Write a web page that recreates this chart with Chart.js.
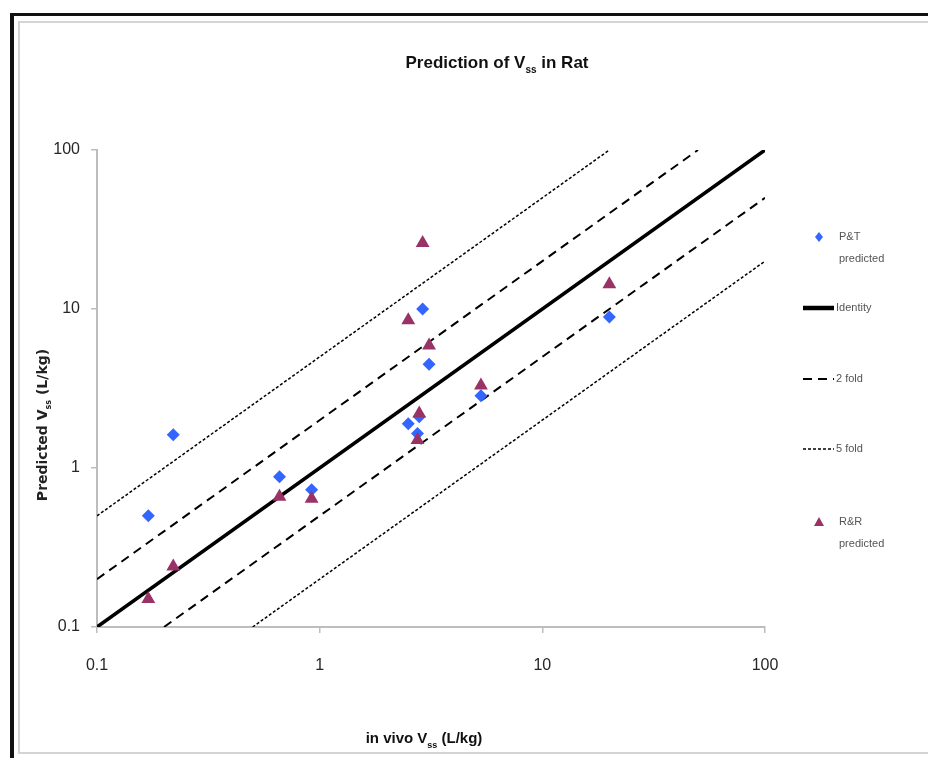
<!doctype html>
<html lang="en">
<head>
<meta charset="utf-8">
<title>Prediction of Vss in Rat</title>
<script src="https://cdn.jsdelivr.net/npm/chart.js@4.4.1/dist/chart.umd.min.js"></script>
<style>
 html,body{margin:0;padding:0;background:#fff}
 body{width:928px;height:758px;position:relative;overflow:hidden}
 #outer{position:absolute;left:10px;top:13px;width:960px;height:800px;border-left:4px solid #111;border-top:3px solid #111}
 #inner{position:absolute;left:18px;top:21px;width:960px;height:729px;border:2px solid #d4d4d4;border-right:none}
 canvas{position:absolute;left:0;top:0}
</style>
</head>
<body>
<div id="outer"></div>
<div id="inner"></div>
<canvas id="c" width="928" height="758"></canvas>

<script>
/* ===== data ========================================================= */
const X_TICKS = [0.1, 1, 10, 100];
const Y_TICKS = [0.1, 1, 10, 100];

// in vivo Vss per compound, same order for both methods
const invivo   = [0.17, 0.22, 0.66, 0.92, 2.5, 2.75, 2.8, 2.9, 3.1, 5.3, 20];
const ptPred   = [0.50, 1.62, 0.88, 0.73, 1.9, 1.65, 2.1, 10,  4.5, 2.85, 8.9];
const rrPred   = [0.15, 0.24, 0.66, 0.64, 8.5, 1.5,  2.2, 26,  5.9, 3.3, 14.3];

// reference lines
const identityX = [0.1, 100],  identityY = [0.1, 100];
const up2X = [0.1, 50],  up2Y = [0.2, 100];
const lo2X = [0.2, 100], lo2Y = [0.1, 50];
const up5X = [0.1, 20],  up5Y = [0.5, 100];
const lo5X = [0.5, 100], lo5Y = [0.1, 20];

const pts = (xs, ys) => xs.map((x, i) => ({x, y: ys[i]}));

const BLUE = '#3366ff', MAROON = '#993366';
const NARROW = '"Liberation Sans Narrow","Liberation Sans",sans-serif';

/* ===== text with subscripts ========================================= */
function richText(ctx, parts, x, y, size, family, weight, color){
  const segs = parts.map(p => {
    const s = p.sub ? Math.round(size*0.6) : size;
    ctx.font = `${weight} ${s}px ${family}`;
    return {t:p.t, sub:p.sub, s, w:ctx.measureText(p.t).width};
  });
  const total = segs.reduce((a, g) => a + g.w, 0);
  let cx = x - total/2;
  ctx.fillStyle = color; ctx.textAlign = 'left'; ctx.textBaseline = 'alphabetic';
  segs.forEach(g => {
    ctx.font = `${weight} ${g.s}px ${family}`;
    ctx.fillText(g.t, cx, y + (g.sub ? size*0.3 : 0));
    cx += g.w;
  });
}

/* ===== legend + titles as a small plugin ============================ */
const LEGEND = [
  {ds:1, text:['P&T','predicted'], y:237},
  {ds:2, text:['Identity'], y:308},
  {ds:3, text:['2 fold'], y:379},
  {ds:5, text:['5 fold'], y:449},
  {ds:0, text:['R&R','predicted'], y:522}
];

const decor = {
  id:'decor',
  afterDraw(chart){
    const ctx = chart.ctx;
    ctx.save();
    richText(ctx, [{t:'Prediction of V'},{t:'ss',sub:true},{t:' in Rat'}], 497, 68, 17, NARROW, 'bold', '#111');
    richText(ctx, [{t:'in vivo V'},{t:'ss',sub:true},{t:' (L/kg)'}], 424, 743, 15, NARROW, 'bold', '#111');
    ctx.translate(47, 425); ctx.rotate(-Math.PI/2);
    richText(ctx, [{t:'Predicted V'},{t:'ss',sub:true},{t:' (L/kg)'}], 0, 0, 14, '"DejaVu Sans",sans-serif', 'bold', '#222');
    ctx.restore();

    // legend
    ctx.save();
    LEGEND.forEach(item => {
      const d = chart.data.datasets[item.ds];
      const y = item.y;
      if (d.showLine) {
        ctx.beginPath();
        ctx.setLineDash(d.borderDash || []);
        ctx.lineWidth = d.borderWidth + (item.ds === 2 ? 1 : 0);
        ctx.strokeStyle = d.borderColor;
        ctx.moveTo(803, y); ctx.lineTo(834, y); ctx.stroke();
        ctx.setLineDash([]);
      } else {
        ctx.fillStyle = d.backgroundColor;
        ctx.beginPath();
        if (d.pointStyle === 'rectRot') {
          ctx.moveTo(819, y-5); ctx.lineTo(823, y); ctx.lineTo(819, y+5); ctx.lineTo(815, y);
        } else {
          ctx.moveTo(819, y-5); ctx.lineTo(824, y+4); ctx.lineTo(814, y+4);
        }
        ctx.closePath(); ctx.fill();
      }
      ctx.fillStyle = '#555';
      ctx.font = `11px ${NARROW}`;
      ctx.textAlign = 'left'; ctx.textBaseline = 'middle';
      item.text.forEach((t, i) => ctx.fillText(t, d.showLine ? 836 : 839, y + i*22));
    });
    ctx.restore();
  }
};

/* ===== chart ======================================================== */
const axisStyle = (ticks, pad) => ({
  type:'logarithmic', min:0.1, max:100,
  afterBuildTicks: s => { s.ticks = ticks.map(v => ({value:v})); },
  grid:{drawOnChartArea:false, drawTicks:true, tickLength:6, color:'#bdbdbd', lineWidth:1.5},
  border:{color:'#bdbdbd', width:2},
  ticks:{padding:pad, color:'#262626', font:{family:'"Liberation Sans",sans-serif', size:16},
         callback:(v, i) => String(ticks[i])}
});

const lineDs = (label, xs, ys, width, dash) => ({
  label, data:pts(xs, ys), showLine:true, borderColor:'#000', backgroundColor:'#000',
  borderWidth:width, borderDash:dash, pointRadius:0, fill:false, order:5
});

new Chart(document.getElementById('c'), {
  type:'scatter',
  data:{datasets:[
    {label:'R&R predicted', data:pts(invivo, rrPred), pointStyle:'triangle', pointRadius:8,
     backgroundColor:MAROON, borderColor:MAROON, borderWidth:0, order:1},
    {label:'P&T predicted', data:pts(invivo, ptPred), pointStyle:'rectRot', pointRadius:6.5,
     backgroundColor:BLUE, borderColor:BLUE, borderWidth:0, order:2},
    lineDs('Identity', identityX, identityY, 3.5, []),
    lineDs('2 fold', up2X, up2Y, 2, [9, 6]),
    lineDs('2 fold low', lo2X, lo2Y, 2, [9, 6]),
    lineDs('5 fold', up5X, up5Y, 1.5, [3, 2]),
    lineDs('5 fold low', lo5X, lo5Y, 1.5, [3, 2])
  ]},
  options:{
    responsive:false, animation:false,
    layout:{padding:{left:0, top:150, right:163, bottom:71}},
    plugins:{legend:{display:false}, tooltip:{enabled:false}},
    scales:{
      x:Object.assign(axisStyle(X_TICKS, 23), {afterFit: s => { s.height = 60; }}),
      y:Object.assign(axisStyle(Y_TICKS, 11), {afterFit: s => { s.width = 97; }})
    }
  },
  plugins:[decor]
});
</script>
</body>
</html>
